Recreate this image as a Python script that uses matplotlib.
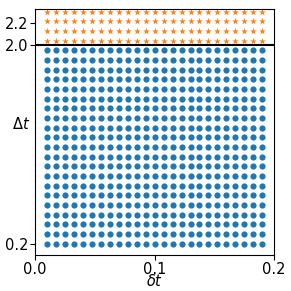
import numpy as np
import matplotlib
matplotlib.use('Agg')
import matplotlib.pyplot as plt

# grid of (dt, Dt) values
dt_values = np.linspace(0.01, 0.19, 25)
Dt_values = np.linspace(0.2, 2.3, 25)
threshold = 2.0

X, Y = np.meshgrid(dt_values, Dt_values)
X = X.ravel()
Y = Y.ravel()
below = Y < threshold

fig = plt.figure(figsize=(2.91, 2.91), dpi=100)
ax = fig.add_axes([0.121, 0.125, 0.821, 0.843])

ax.scatter(X[below], Y[below], s=20, color='tab:blue', marker='o', linewidths=0)
ax.scatter(X[~below], Y[~below], s=26, color='tab:orange', marker='*', linewidths=0)
ax.axhline(threshold, color='black', linewidth=1.5)

ax.set_xlim(0, 0.2)
ax.set_ylim(0.1, 2.32)
ax.set_xticks([0.0, 0.1, 0.2])
ax.set_yticks([0.2, 2.0, 2.2])
ax.tick_params(labelsize=10.5, pad=1.5)
ax.set_xlabel(r'$\delta t$', fontsize=10.5)
ax.set_ylabel(r'$\Delta t$', fontsize=10.5, rotation=0)
ax.xaxis.set_label_coords(0.5, -0.075)
ax.yaxis.set_label_coords(-0.06, 0.5)

fig.savefig('out.png', dpi=100)
